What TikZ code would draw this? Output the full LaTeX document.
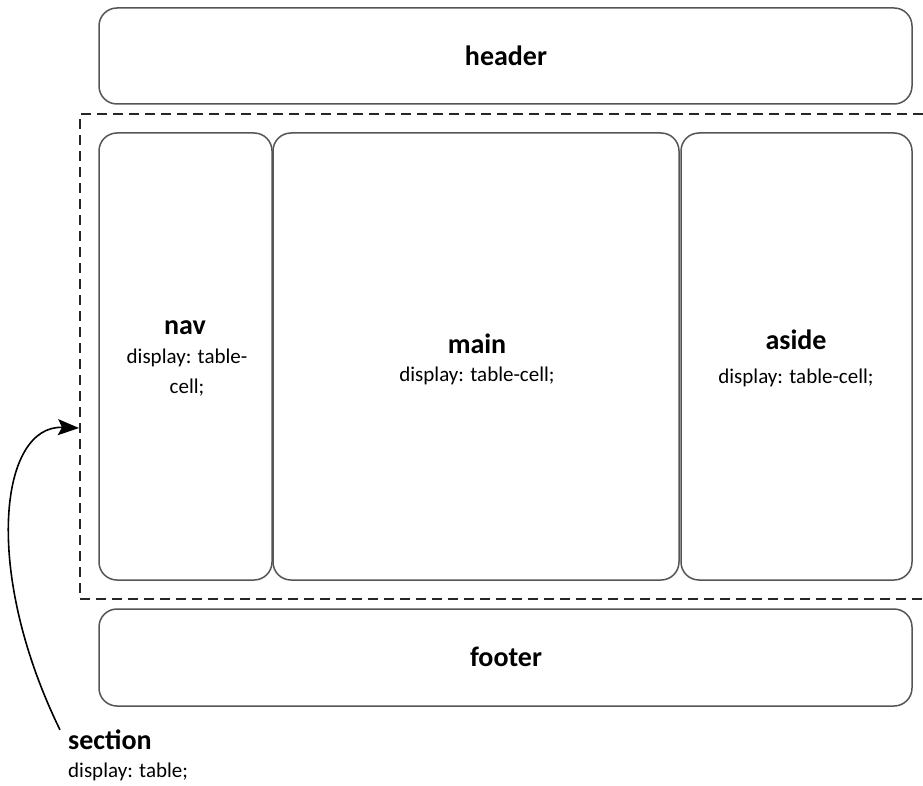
\documentclass[tikz,border=0pt]{standalone}
\usepackage{fontspec}
\setmainfont{Carlito}
\usetikzlibrary{arrows.meta}
\definecolor{boxline}{RGB}{85,85,85}

\begin{document}
\begin{tikzpicture}[
  x=1pt,y=-1pt,
  >={Stealth[length=21pt,width=16pt,inset=4pt]},
  cell/.style={rectangle,rounded corners=18pt,draw=boxline,line width=1.5pt,inner sep=0pt},
  tag/.style={font=\bfseries\fontsize{28}{32}\selectfont,inner sep=0pt},
  prop/.style={font=\fontsize{21}{30}\selectfont,inner sep=0pt,align=center},
  wrap/.style={dashed,dash pattern=on 10pt off 6pt,line width=1.5pt,black!85}
]
\useasboundingbox (0,0) rectangle (923,786);
% ================= header / footer =================
\node[cell,minimum width=813pt,minimum height=96pt] (header) at (505.5,56) {};
\node[cell,minimum width=813pt,minimum height=97pt] (footer) at (505.5,657.5) {};
\node[tag] (headertag) at (506,56) {header};
\node[tag] (footertag) at (506,657) {footer};
% ================= section: the table row =================
\coordinate (wraptr) at (923,114);
\coordinate (wraptl) at (80,114);
\coordinate (wrapbl) at (80,599);
\coordinate (wrapbr) at (923,599);
\draw[wrap] (wraptr) -- (wraptl) -- (wrapbl) -- (wrapbr);
\node[cell,minimum width=173pt,minimum height=447pt] (nav) at (185.5,356.5) {};
\node[cell,minimum width=406pt,minimum height=447pt] (main) at (476,356.5) {};
\node[cell,minimum width=231pt,minimum height=447pt] (aside) at (796.5,356.5) {};
\node[tag] (navtag) at (185,328) {nav};
\node[prop] (navprop) at (187,373) {display: table-\\cell;};
\node[tag] (maintag) at (477,344) {main};
\node[prop] (mainprop) at (477,376) {display: table-cell;};
\node[tag] (asidetag) at (796,340) {aside};
\node[prop] (asideprop) at (796,378) {display: table-cell;};
% ================= section label =================
\node[tag,anchor=west] (sectiontag) at (68,740) {section};
\node[prop,anchor=west] (sectionprop) at (68,772) {display: table;};
\coordinate (pointer) at (79,428);
\draw[->,line width=1.6pt] (sectiontag.north west) ++(-8,0) .. controls (-18,570) and (0,425) .. (pointer);
\end{tikzpicture}
\end{document}
